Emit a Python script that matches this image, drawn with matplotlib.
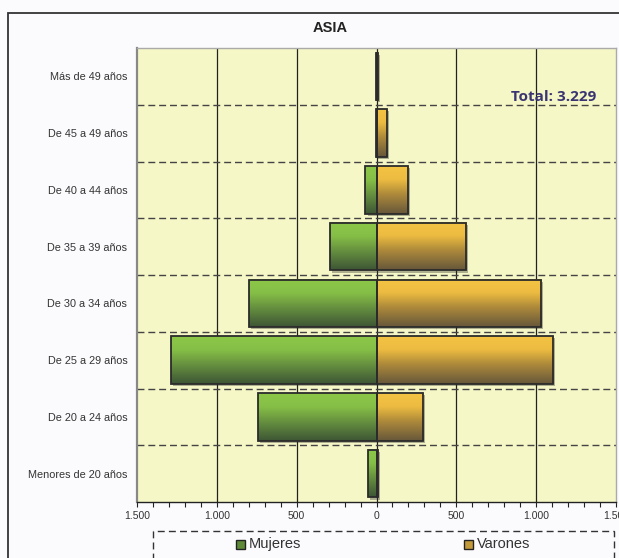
import numpy as np
import matplotlib
matplotlib.use('Agg')
import matplotlib.pyplot as plt
from matplotlib.patches import Rectangle
from matplotlib.colors import LinearSegmentedColormap
import matplotlib.patheffects as pe
from matplotlib.ticker import MultipleLocator, FuncFormatter

# data (bottom row first)
groups = ["Menores de 20 años", "De 20 a 24 años", "De 25 a 29 años", "De 30 a 34 años",
          "De 35 a 39 años", "De 40 a 44 años", "De 45 a 49 años", "Más de 49 años"]
mujeres = [52, 741, 1287, 797, 289, 69, 3, 2]
varones = [10, 289, 1103, 1029, 559, 195, 63, 8]
series = ["Mujeres", "Varones"]
title = "ASIA"
total_text = "Total: 3.229"

plt.rcParams['font.family'] = ['Liberation Sans', 'DejaVu Sans']

green = LinearSegmentedColormap.from_list(
    'g', [(0, '#3d5535'), (0.4, '#66903f'), (0.72, '#86bf47'), (1, '#8cc747')])
orange = LinearSegmentedColormap.from_list(
    'o', [(0, '#66573b'), (0.4, '#ab883a'), (0.72, '#ecbb41'), (1, '#f4c444')])
grad = np.linspace(0, 1, 128).reshape(-1, 1)

fig = plt.figure(figsize=(6.19, 5.58), dpi=100)
fig.patch.set_facecolor('#fbfbfd')
ax = fig.add_axes((137 / 619, 1 - 502 / 558, 479 / 619, 454 / 558))
ax.set_facecolor('#f5f7c6')

y = np.arange(len(groups))
h = 0.84

def draw_bars(vals, sign, cmap):
    bars = ax.barh(y, [sign * v for v in vals], height=h, color='#888888', zorder=3,
                   path_effects=[pe.SimplePatchShadow(offset=(1.5, -1.5), alpha=0.35), pe.Normal()])
    for b in bars:
        x0, y0 = b.get_x(), b.get_y()
        w, hh = b.get_width(), b.get_height()
        if abs(w) < 1e-9:
            continue
        ax.imshow(grad, cmap=cmap, origin='lower', aspect='auto', interpolation='bilinear',
                  extent=(min(x0, x0 + w), max(x0, x0 + w), y0, y0 + hh), zorder=4)
    ax.barh(y, [sign * v for v in vals], height=h, facecolor='none',
            edgecolor='#2b2b2b', linewidth=1.3, zorder=5)

draw_bars(mujeres, -1, green)
draw_bars(varones, 1, orange)

ax.set_xlim(-1500, 1500)
ax.set_ylim(-0.5, len(groups) - 0.5)

# vertical grid
for gx in (-1000, -500, 0, 500, 1000):
    ax.axvline(gx, color='#222222', lw=0.9, zorder=2)
# dashed category separators
for gy in y[:-1] + 0.5:
    ax.axhline(gy, color='#444444', lw=1.0, dashes=(5, 2.8), zorder=2)

ax.set_yticks(y)
ax.set_yticklabels(groups, fontsize=7.8, color='#333333')
ax.tick_params(axis='y', length=0, pad=7)

ax.xaxis.set_major_locator(MultipleLocator(500))
ax.xaxis.set_minor_locator(MultipleLocator(100))
ax.xaxis.set_major_formatter(FuncFormatter(lambda v, p: f"{abs(int(round(v))):,}".replace(',', '.')))
ax.tick_params(axis='x', which='both', direction='out', length=3.5, width=0.8,
               color='#222222', labelsize=7.5, labelcolor='#333333', pad=3)

for s in ('top', 'right'):
    ax.spines[s].set_color('#aaaaaa')
    ax.spines[s].set_linewidth(1.0)
ax.spines['left'].set_color('#888888')
ax.spines['left'].set_linewidth(1.6)
ax.spines['bottom'].set_color('#222222')
ax.spines['bottom'].set_linewidth(1.0)

ax.text(0.958, 0.892, total_text, transform=ax.transAxes, ha='right', va='center',
        fontsize=11, fontweight='bold', color='#3a3572', family=['Open Sans', 'DejaVu Sans'], zorder=6)

fig.text(330 / 619, 1 - 28 / 558, title, ha='center', va='center', fontsize=10.5,
         fontweight='bold', color='#222222')

# outer frame
fig.patches.append(Rectangle((8 / 619, -0.1), 1.2, 1.1 - 13 / 558, transform=fig.transFigure,
                             fill=False, edgecolor='#333333', lw=1.3))

# legend box
fig.patches.append(Rectangle((153 / 619, -0.1), (614 - 153) / 619, 0.1 + 1 - 531 / 558,
                             transform=fig.transFigure, fill=False, edgecolor='#333333',
                             lw=1.0, linestyle=(0, (5, 3))))
legend_x = [236, 464]
legend_fc = ['#5e8a38', '#c29a3a']
for lx, name, fc in zip(legend_x, series, legend_fc):
    fig.patches.append(Rectangle((lx / 619, 1 - 549 / 558), 9 / 619, 9 / 558,
                                 transform=fig.transFigure, facecolor=fc,
                                 edgecolor='#222222', lw=1.0))
    fig.text((lx + 13) / 619, 1 - 544 / 558, name, ha='left', va='center',
             fontsize=10.5, color='#333333')

fig.savefig('out.png', dpi=100, facecolor=fig.get_facecolor())
